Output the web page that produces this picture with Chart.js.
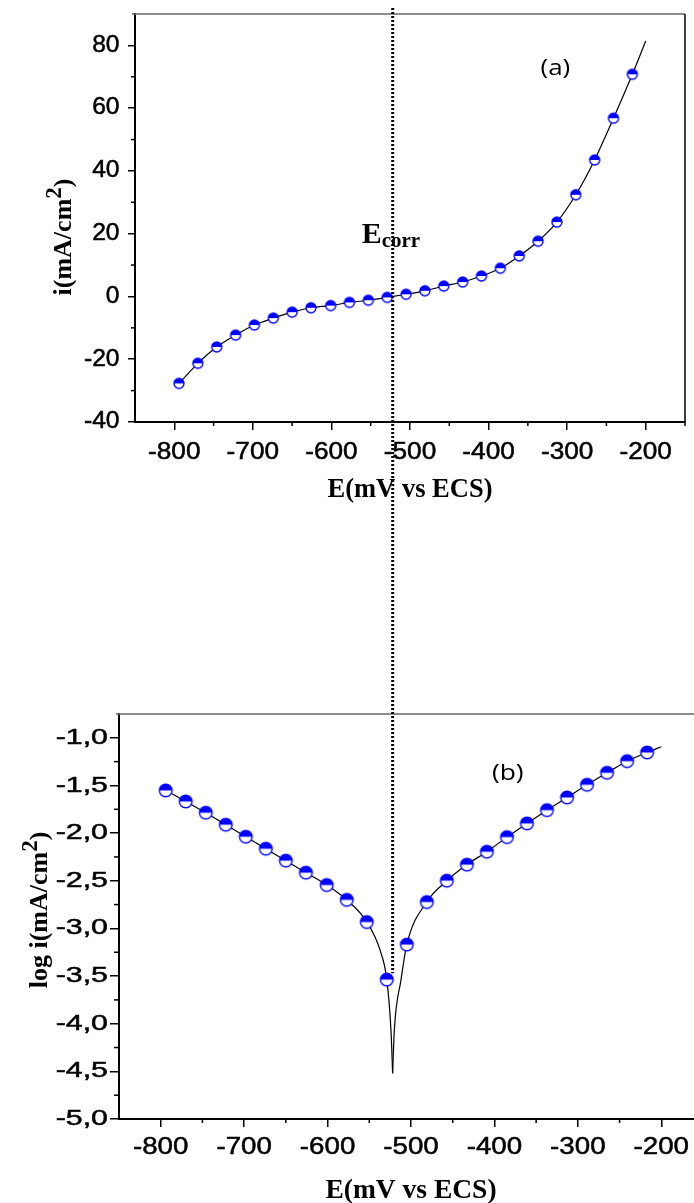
<!DOCTYPE html>
<html>
<head>
<meta charset="utf-8">
<script src="https://cdn.jsdelivr.net/npm/chart.js@4.4.1/dist/chart.umd.min.js"></script>
<style>
  html, body { margin: 0; padding: 0; background: #fff; }
  #page { position: relative; width: 694px; height: 1203px; overflow: hidden; }
  #topChart { position: absolute; left: 0; top: 0; }
  #bottomChart { position: absolute; left: 0; top: 700px; }
</style>
</head>
<body>
<div id="page">
  <canvas id="topChart" width="694" height="700"></canvas>
  <canvas id="bottomChart" width="710" height="503"></canvas>
</div>
<script>
// measured points, E in mV vs ECS
const potentials = [-794, -770, -746, -722, -698, -674, -650, -626, -601, -577, -553, -529, -505, -481, -457, -433, -409, -385, -361, -337, -313, -289, -265, -241, -217];
// (a) current density i (mA/cm2)
const currents = [-27.7, -21.3, -16.1, -12.3, -9.1, -6.9, -5.0, -3.6, -2.9, -1.9, -1.2, -0.3, 0.7, 1.8, 3.3, 4.6, 6.5, 9.0, 12.9, 17.6, 23.7, 32.4, 43.5, 56.8, 70.8];
// (b) log i
const logCurrents = [-1.552, -1.668, -1.786, -1.912, -2.038, -2.164, -2.289, -2.415, -2.545, -2.70, -2.933, -3.537, -3.17, -2.723, -2.499, -2.331, -2.195, -2.042, -1.898, -1.759, -1.626, -1.493, -1.367, -1.245, -1.154];

// fitted curve of (a)
const fitAE = [-794, -770, -746, -722, -698, -674, -650, -626, -601, -577, -553, -529, -505, -481, -457, -433, -409, -385, -361, -337, -313, -289, -265, -241, -217, -200];
const fitAI = [-27.7, -21.3, -16.1, -12.3, -9.1, -6.9, -5.0, -3.6, -2.9, -1.9, -1.2, -0.3, 0.7, 1.8, 3.3, 4.6, 6.5, 9.0, 12.9, 17.6, 23.7, 32.4, 43.5, 56.8, 70.8, 81.4];
// fitted curve of (b), cathodic and anodic branches
const fitCathE = [-794, -770, -746, -722, -698, -674, -650, -626, -601, -577, -553, -537, -529, -524, -522];
const fitCathLog = [-1.55, -1.668, -1.786, -1.912, -2.038, -2.164, -2.289, -2.415, -2.545, -2.70, -2.93, -3.23, -3.54, -4.07, -4.52];
const fitAnodE = [-522, -520, -512, -505, -481, -457, -433, -409, -385, -361, -337, -313, -289, -265, -241, -217, -200];
const fitAnodLog = [-4.52, -4.07, -3.54, -3.17, -2.72, -2.50, -2.33, -2.195, -2.042, -1.898, -1.759, -1.626, -1.493, -1.367, -1.245, -1.154, -1.094];

const eCorr = -522;

// tick labels
const ticksE = [-800, -700, -600, -500, -400, -300, -200];
const minorE = [-750, -650, -550, -450, -350, -250, -150];
const ticksI = [-40, -20, 0, 20, 40, 60, 80];
const minorI = [-30, -10, 10, 30, 50, 70];
const ticksLog = [-5.0, -4.5, -4.0, -3.5, -3.0, -2.5, -2.0, -1.5, -1.0];
const minorLog = [-4.75, -4.25, -3.75, -3.25, -2.75, -2.25, -1.75, -1.25];

const BLUE = "#0000ff";
const SERIF_B = "bold %spx 'Liberation Serif', 'Times New Roman', serif";
const SANS = "%spx 'Liberation Sans', Arial, sans-serif";
const f = (tpl, size) => tpl.replace("%s", size);

function pairs(xs, ys) {
  return xs.map((x, i) => ({ x: x, y: ys[i] }));
}

// half filled circle marker (blue top, white bottom)
function halfDisc(r) {
  const size = Math.ceil(r * 2 + 4);
  const c = document.createElement("canvas");
  c.width = size;
  c.height = size;
  const g = c.getContext("2d");
  const m = size / 2;
  g.fillStyle = "#fff";
  g.beginPath();
  g.arc(m, m, r, 0, Math.PI * 2);
  g.fill();
  g.fillStyle = BLUE;
  g.beginPath();
  g.arc(m, m, r, Math.PI, 0);
  g.closePath();
  g.fill();
  g.strokeStyle = BLUE;
  g.lineWidth = 1.4;
  g.beginPath();
  g.arc(m, m, r, 0, Math.PI * 2);
  g.stroke();
  return c;
}

// text made of parts [text, font, dy]
function drawText(ctx, parts, x, y, opts = {}) {
  ctx.save();
  ctx.translate(x, y);
  if (opts.rotate) ctx.rotate(opts.rotate);
  if (opts.sx) ctx.scale(opts.sx, 1);
  let total = 0;
  parts.forEach((p) => {
    ctx.font = p[1];
    total += ctx.measureText(p[0]).width;
  });
  let cx = opts.align === "left" ? 0 : -total / 2;
  ctx.textAlign = "left";
  ctx.textBaseline = "alphabetic";
  ctx.fillStyle = "#000";
  parts.forEach((p) => {
    ctx.font = p[1];
    ctx.fillText(p[0], cx, p[2] || 0);
    cx += ctx.measureText(p[0]).width;
  });
  ctx.restore();
}

function drawTickLabels(ctx, scale, values, fmt, o) {
  ctx.save();
  ctx.fillStyle = "#000";
  ctx.strokeStyle = "#000";
  ctx.lineWidth = 0.5;
  ctx.font = o.font;
  values.forEach((v) => {
    const p = scale.getPixelForValue(v);
    ctx.save();
    if (scale.isHorizontal()) {
      ctx.translate(p, o.pos);
      ctx.textAlign = "center";
      ctx.textBaseline = "alphabetic";
    } else {
      ctx.translate(o.pos, p);
      ctx.textAlign = "right";
      ctx.textBaseline = "middle";
    }
    ctx.scale(o.sx, 1);
    ctx.fillText(fmt(v), 0, 0);
    ctx.strokeText(fmt(v), 0, 0);
    ctx.restore();
  });
  ctx.restore();
}

function drawMinor(ctx, scale, values, len, area) {
  ctx.save();
  ctx.strokeStyle = "#000";
  ctx.lineWidth = 1.5;
  values.forEach((v) => {
    const p = scale.getPixelForValue(v);
    ctx.beginPath();
    if (scale.isHorizontal()) {
      ctx.moveTo(p, area.bottom);
      ctx.lineTo(p, area.bottom + len);
    } else {
      ctx.moveTo(area.left, p);
      ctx.lineTo(area.left - len, p);
    }
    ctx.stroke();
  });
  ctx.restore();
}

function drawDotted(ctx, x, y0, y1) {
  ctx.save();
  ctx.strokeStyle = "#000";
  ctx.lineWidth = 3;
  ctx.setLineDash([2, 2]);
  ctx.beginPath();
  ctx.moveTo(x, y0);
  ctx.lineTo(x, y1);
  ctx.stroke();
  ctx.restore();
}

function axis(min, max, ticks, width, tickLength, fit) {
  return {
    type: "linear",
    min: min,
    max: max,
    afterBuildTicks: (scale) => {
      scale.ticks = ticks.map((v) => ({ value: v }));
    },
    afterFit: fit,
    ticks: { display: false },
    grid: {
      display: true,
      drawOnChartArea: false,
      drawTicks: true,
      tickLength: tickLength,
      color: "#000",
      lineWidth: 1.5,
    },
    border: { display: true, color: "#000", width: width },
  };
}

const topDecor = {
  id: "topDecor",
  afterDraw(chart) {
    const { ctx, chartArea: a } = chart;
    const x = chart.scales.x;
    const y = chart.scales.y;
    ctx.save();
    ctx.strokeStyle = "#666";
    ctx.lineWidth = 1.5;
    ctx.beginPath();
    ctx.moveTo(a.left - 3, a.top);
    ctx.lineTo(a.right, a.top);
    ctx.stroke();
    ctx.strokeStyle = "#000";
    ctx.beginPath();
    ctx.moveTo(a.right, a.top);
    ctx.lineTo(a.right, a.bottom);
    ctx.stroke();
    ctx.restore();

    drawMinor(ctx, x, minorE, 4, a);
    drawMinor(ctx, y, minorI, 4, a);
    drawTickLabels(ctx, x, ticksE, (v) => String(v), {
      font: f(SANS, 23), sx: 1.14, pos: a.bottom + 37,
    });
    drawTickLabels(ctx, y, ticksI, (v) => String(v), {
      font: f(SANS, 23), sx: 1.07, pos: a.left - 15.5,
    });

    drawText(ctx, [["E(mV vs ECS)", f(SERIF_B, 26.5)]], (a.left + a.right) / 2, 497);
    drawText(
      ctx,
      [["i(mA/cm", f(SERIF_B, 26)], ["2", f(SERIF_B, 23), -10], [")", f(SERIF_B, 26)]],
      71, 237, { rotate: -Math.PI / 2 }
    );
    drawText(ctx, [["(a)", "22px 'Open Sans', sans-serif"]], x.getPixelForValue(-315), y.getPixelForValue(70.6), { sx: 1.18 });
    drawText(
      ctx,
      [["E", f(SERIF_B, 30)], ["corr", f(SERIF_B, 21), 3.5]],
      x.getPixelForValue(eCorr) - 31, y.getPixelForValue(16.9), { align: "left" }
    );
    drawDotted(ctx, x.getPixelForValue(eCorr), 8, chart.height);
  },
};

const bottomDecor = {
  id: "bottomDecor",
  afterDraw(chart) {
    const { ctx, chartArea: a } = chart;
    const x = chart.scales.x;
    const y = chart.scales.y;
    ctx.save();
    ctx.strokeStyle = "#666";
    ctx.lineWidth = 1.5;
    ctx.beginPath();
    ctx.moveTo(a.left - 3, a.top);
    ctx.lineTo(a.right, a.top);
    ctx.stroke();
    ctx.restore();

    drawMinor(ctx, x, minorE, 4, a);
    drawMinor(ctx, y, minorLog, 5, a);
    drawTickLabels(ctx, x, ticksE, (v) => String(v), {
      font: f(SANS, 23.5), sx: 1.18, pos: a.bottom + 34.5,
    });
    drawTickLabels(ctx, y, ticksLog, (v) => v.toFixed(1).replace(".", ","), {
      font: f(SANS, 22), sx: 1.38, pos: a.left - 11,
    });

    drawText(ctx, [["E(mV vs ECS)", f(SERIF_B, 27.5)]], (a.left + a.right) / 2, 498);
    drawText(
      ctx,
      [["log i(mA/cm", f(SERIF_B, 26)], ["2", f(SERIF_B, 23), -10], [")", f(SERIF_B, 26)]],
      47, 210, { rotate: -Math.PI / 2 }
    );
    drawText(ctx, [["(b)", "22px 'Open Sans', sans-serif"]], x.getPixelForValue(-384), y.getPixelForValue(-1.44), { sx: 1.2 });
    drawDotted(ctx, x.getPixelForValue(eCorr), 0, y.getPixelForValue(-3.47));
  },
};

function buildChart(id, cfg) {
  const ctx = document.getElementById(id).getContext("2d");
  return new Chart(ctx, {
    type: "scatter",
    data: { datasets: cfg.datasets },
    options: {
      responsive: false,
      animation: false,
      events: [],
      layout: { padding: cfg.padding },
      plugins: { legend: { display: false }, tooltip: { enabled: false } },
      scales: { x: cfg.x, y: cfg.y },
    },
    plugins: [cfg.decor],
  });
}

function fitLine(data) {
  return {
    data: data,
    showLine: true,
    borderColor: "#000",
    borderWidth: 1.2,
    pointRadius: 0,
    cubicInterpolationMode: "monotone",
  };
}

document.addEventListener("DOMContentLoaded", () => {
  buildChart("topChart", {
    padding: { top: 14, right: 9, left: 0, bottom: 0 },
    x: axis(-850, -150, ticksE, 2, 8, (s) => { s.height = 278; }),
    y: axis(-40, 90, ticksI, 2, 7, (s) => { s.width = 135; }),
    datasets: [
      {
        data: pairs(potentials, currents),
        pointStyle: halfDisc(5),
        pointRadius: 5,
        showLine: false,
      },
      fitLine(pairs(fitAE, fitAI)),
    ],
    decor: topDecor,
  });

  buildChart("bottomChart", {
    padding: { top: 14, right: 7, left: 0, bottom: 0 },
    x: axis(-850, -150, ticksE, 2, 8, (s) => { s.height = 84; }),
    y: axis(-5.0, -0.75, ticksLog, 2, 9, (s) => { s.width = 119; }),
    datasets: [
      {
        data: pairs(potentials, logCurrents),
        pointStyle: halfDisc(6.3),
        pointRadius: 6,
        showLine: false,
      },
      fitLine(pairs(fitCathE, fitCathLog)),
      fitLine(pairs(fitAnodE, fitAnodLog)),
    ],
    decor: bottomDecor,
  });
});
</script>
</body>
</html>
